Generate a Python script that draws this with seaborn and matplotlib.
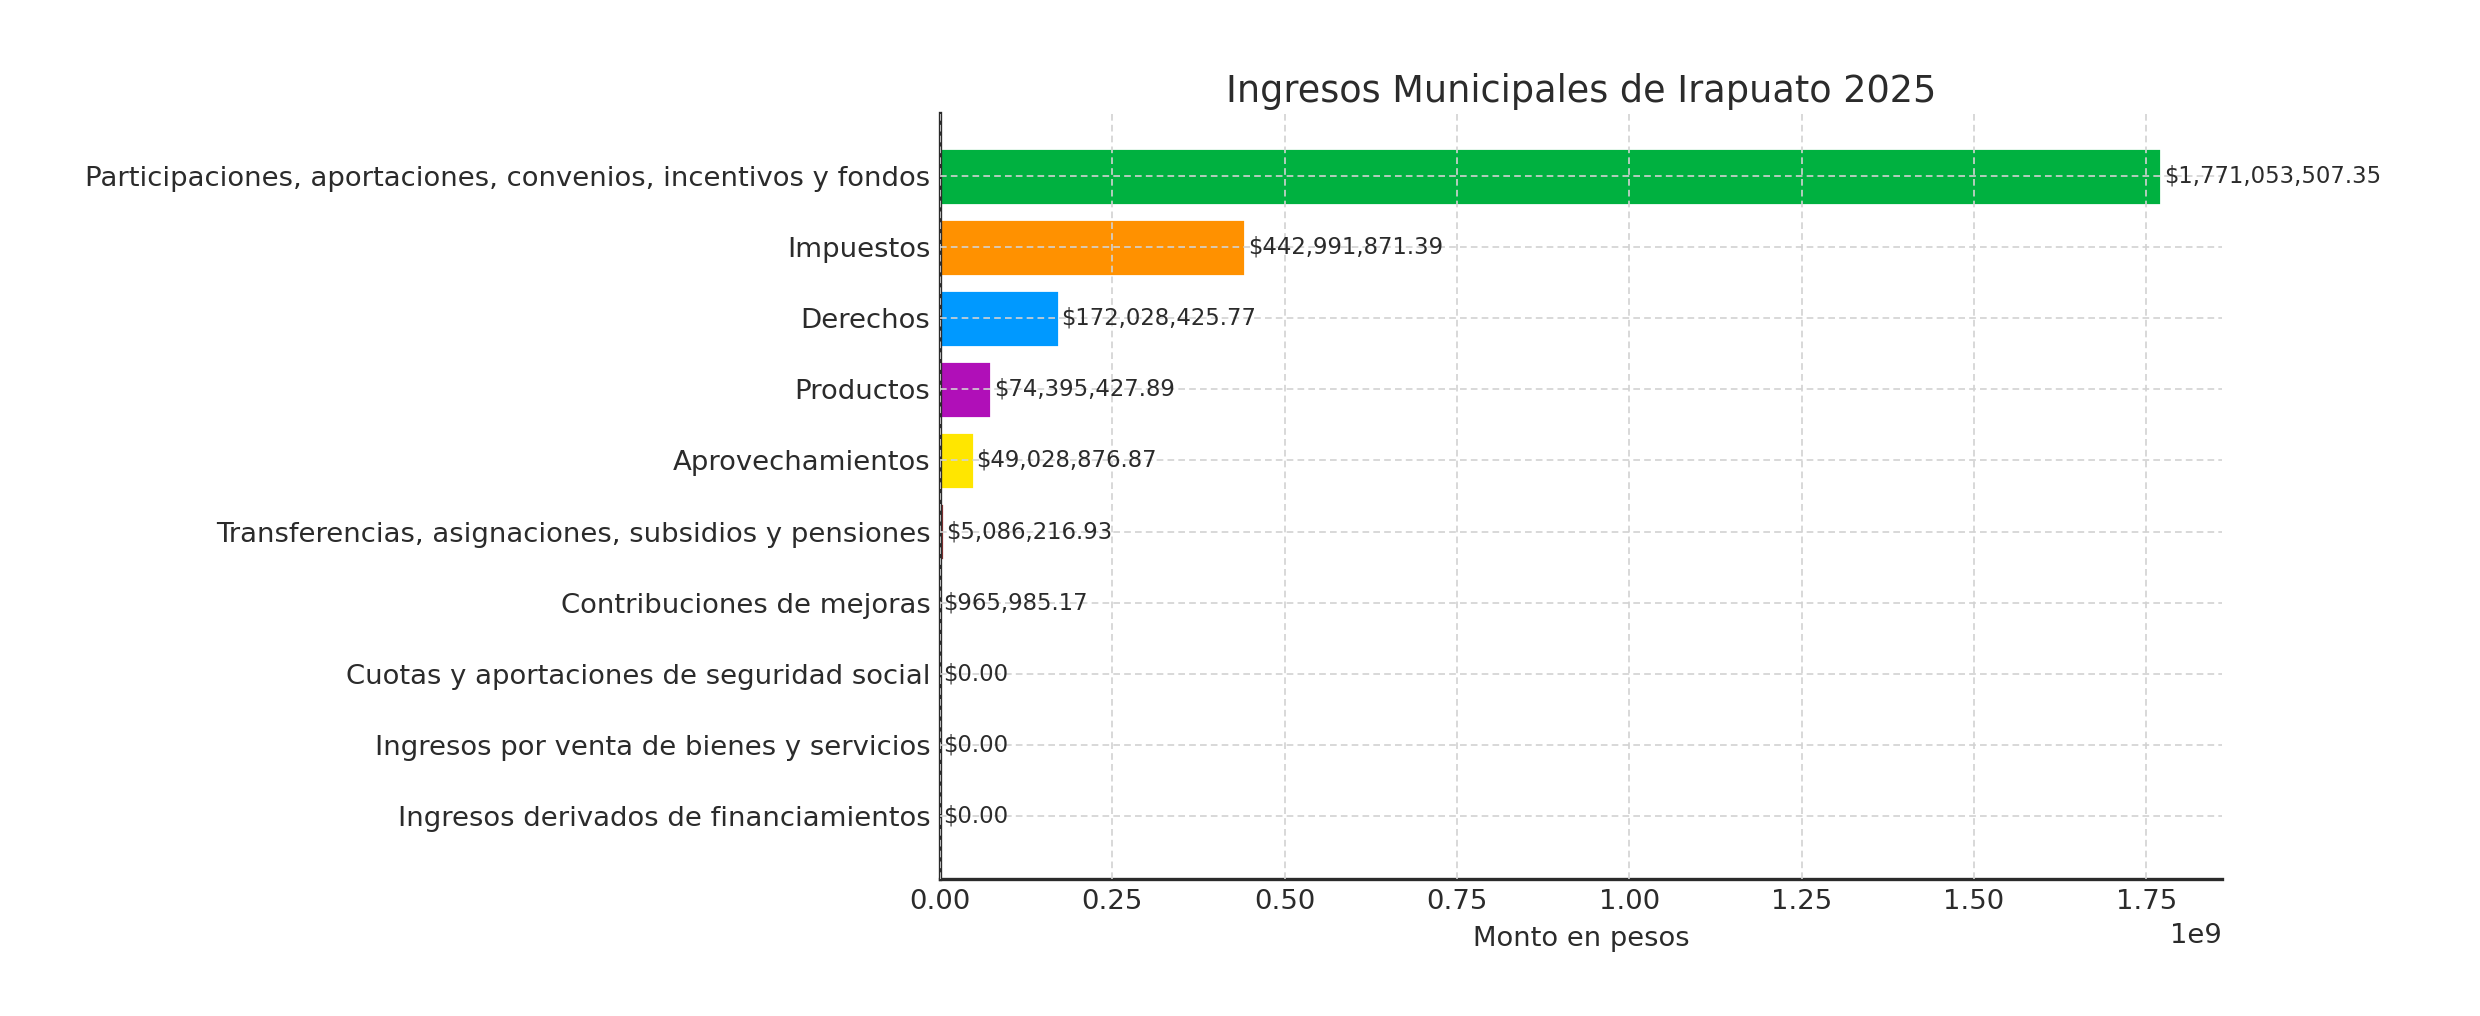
import seaborn as sns
import matplotlib.pyplot as plt
import pandas as pd

# Ingresos municipales 2025 por rubro
categories = [
    "Participaciones, aportaciones, convenios, incentivos y fondos",
    "Impuestos",
    "Derechos",
    "Productos",
    "Aprovechamientos",
    "Transferencias, asignaciones, subsidios y pensiones",
    "Contribuciones de mejoras",
    "Cuotas y aportaciones de seguridad social",
    "Ingresos por venta de bienes y servicios",
    "Ingresos derivados de financiamientos",
]
amounts = [
    1771053507.35,
    442991871.39,
    172028425.77,
    74395427.89,
    49028876.87,
    5086216.93,
    965985.17,
    0.00,
    0.00,
    0.00,
]
bar_colors = ["#00b140", "#ff9100", "#0099ff", "#b00fb8", "#ffe600",
              "#8b2f2f", "#e377c2", "#7f7f7f", "#bcbd22", "#17becf"]

df = pd.DataFrame({"rubro": categories, "monto": amounts})

sns.set_style("white")
plt.rcParams['font.family'] = ['DejaVu Sans']
text_color = "#2b2b2b"

fig, ax = plt.subplots(figsize=(12.4, 5.08), dpi=200)
sns.barplot(data=df, y="rubro", x="monto", hue="rubro", palette=bar_colors,
            orient="h", width=0.8, legend=False, ax=ax, saturation=1)

# etiquetas con el monto al final de cada barra
for patch, value in zip(ax.patches, amounts):
    ax.text(patch.get_width() + 0.004e9, patch.get_y() + patch.get_height() / 2,
            f"${value:,.2f}", va="center", ha="left", fontsize=8.2, color=text_color)

ax.margins(x=0.05)
ax.set_ylim(9.89, -0.89)
ax.set_title("Ingresos Municipales de Irapuato 2025", fontsize=13.2, color=text_color, pad=4)
ax.set_xlabel("Monto en pesos", fontsize=9.85, color=text_color)
ax.set_ylabel("")
ax.tick_params(axis="both", direction="in", length=4, colors=text_color, labelsize=9.9)
ax.xaxis.get_offset_text().set_fontsize(9.9)
ax.xaxis.get_offset_text().set_color(text_color)
ax.grid(True, linestyle="--", color="#d2d2d2", linewidth=0.6, dashes=(4, 2.5))
ax.set_axisbelow(False)
sns.despine(ax=ax)
for side in ["left", "bottom"]:
    ax.spines[side].set_color(text_color)
    ax.spines[side].set_linewidth(1.2)

fig.subplots_adjust(left=940 / 2480, right=2222 / 2480, top=1 - 113 / 1016, bottom=1 - 879 / 1016)
fig.savefig("out.png", dpi=200)
